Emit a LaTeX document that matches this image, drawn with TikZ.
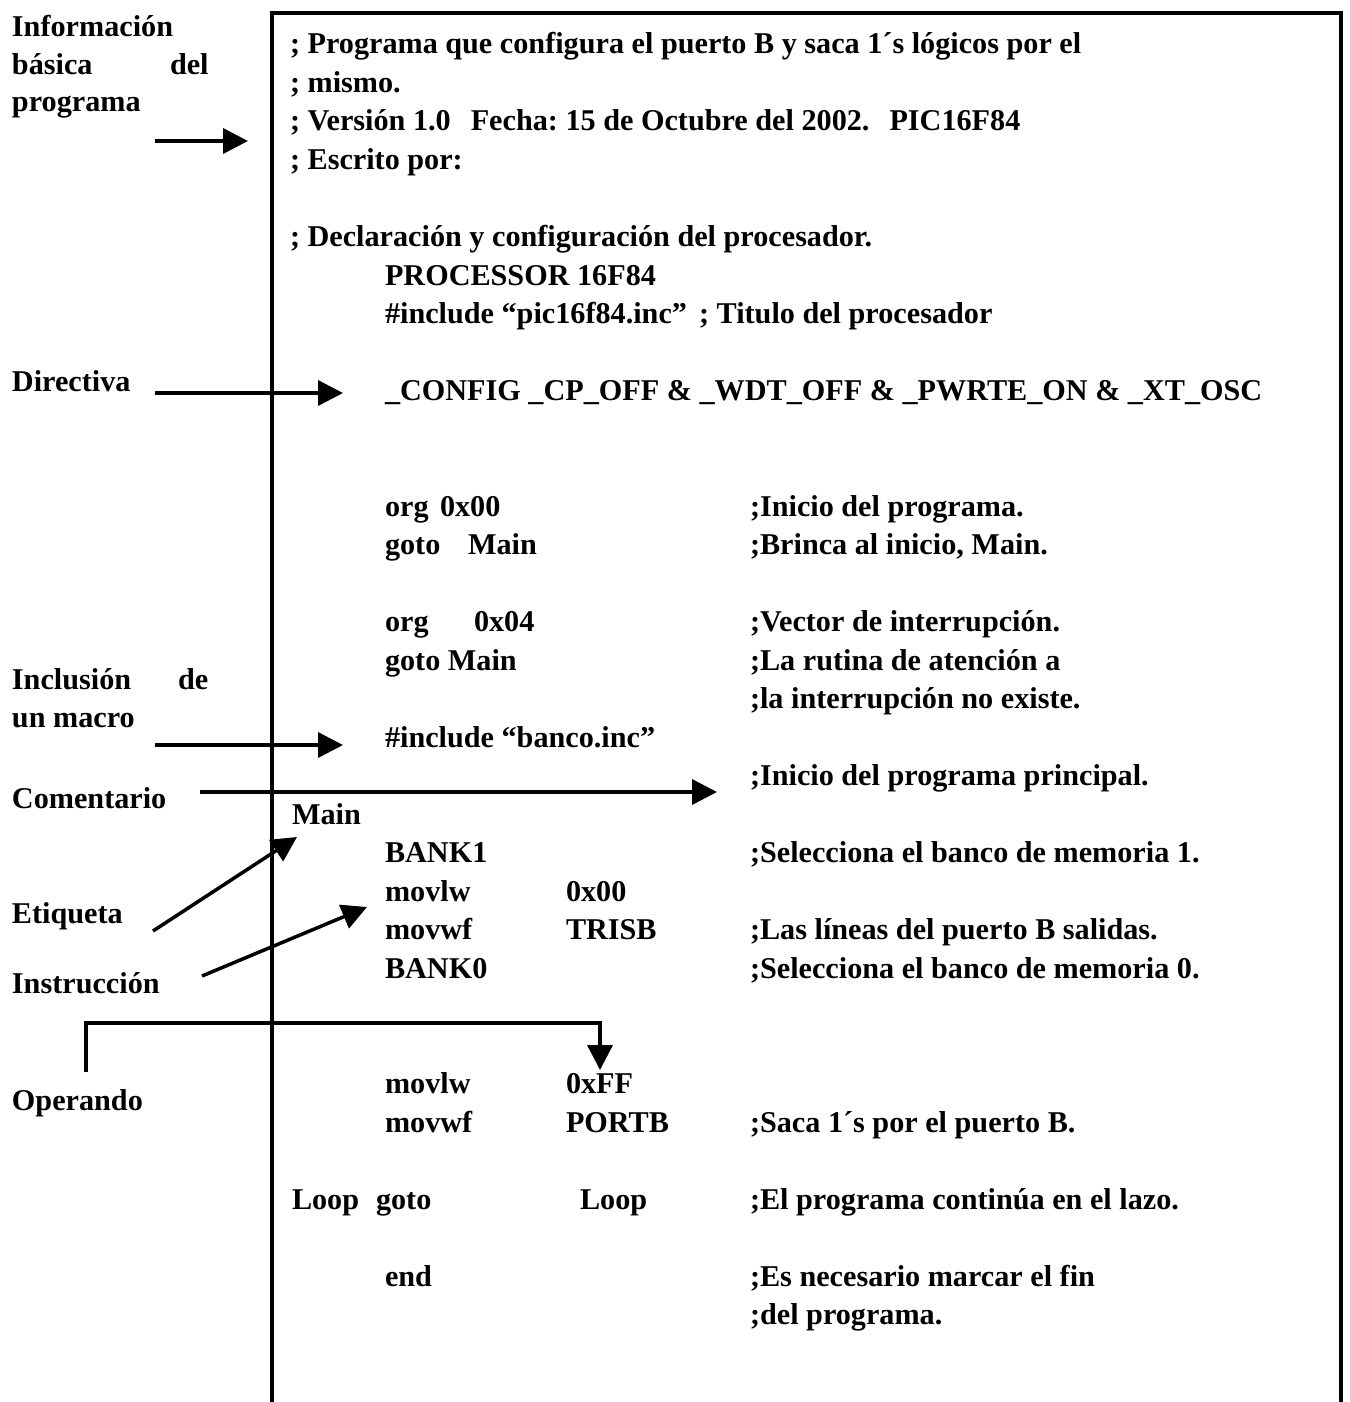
\documentclass[tikz,border=0pt]{standalone}
\usepackage{fontspec}
\setmainfont{Liberation Serif}
\usetikzlibrary{arrows.meta}
\newcommand{\fsz}{\fontsize{30.2}{36}\selectfont\bfseries\frenchspacing}
\tikzset{
  txt/.style={anchor=base west, inner sep=0pt, outer sep=0pt, font=\fsz},
  conn/.style={line width=3.5pt, -{Triangle[length=25pt,width=25pt]}},
  frame/.style={line width=4pt}
}
\begin{document}
\begin{tikzpicture}[x=1pt,y=-1pt]
\useasboundingbox (0,0) rectangle (1349,1402);
\fill[white] (0,0) rectangle (1349,1402);
% frame
\coordinate (fbl) at (272,1404);
\coordinate (ftl) at (272,13);
\coordinate (ftr) at (1341,13);
\coordinate (fbr) at (1341,1404);
\draw[frame] (fbl) -- (ftl) -- (ftr) -- (fbr);
% left labels
\node[txt] (l1) at (12,37) {Información};
\node[txt] (l2a) at (12,75) {básica};
\node[txt] (l2b) at (170,75) {del};
\node[txt] (l3) at (12,112) {programa};
\node[txt] (ldir) at (12,391) {Directiva};
\node[txt] (linc1) at (12,689) {Inclusión};
\node[txt] (linc2) at (178,689) {de};
\node[txt] (linc3) at (12,727) {un macro};
\node[txt] (lcom) at (12,808) {Comentario};
\node[txt] (leti) at (12,923) {Etiqueta};
\node[txt] (lins) at (12,993) {Instrucción};
\node[txt] (lope) at (12,1110) {Operando};
% code lines: baseline = 54 + 38.5 k
\def\cc{750}
\def\oc{566}
\node[txt] (c0) at (290,{54+38.5*0}) {; Programa que configura el puerto B y saca 1´s lógicos por el};
\node[txt] (c1) at (290,{54+38.5*1}) {; mismo.};
\node[txt] (c2) at (290,{54+38.5*2}) {; Versión 1.0\hspace{20pt}Fecha: 15 de Octubre del 2002.\hspace{20pt}PIC16F84};
\node[txt] (c3) at (290,{54+38.5*3}) {; Escrito por:};
\node[txt] (c5) at (290,{54+38.5*5}) {; Declaración y configuración del procesador.};
\node[txt] (c6) at (385,{54+38.5*6}) {PROCESSOR 16F84};
\node[txt] (c7) at (385,{54+38.5*7}) {\#include “pic16f84.inc”\hspace{12pt}; Titulo del procesador};
\node[txt] (c9) at (385,{54+38.5*9}) {\_CONFIG \_CP\_OFF \& \_WDT\_OFF \& \_PWRTE\_ON \& \_XT\_OSC};
\node[txt] (c12a) at (385,{54+38.5*12}) {org};
\node[txt] (c12b) at (440,{54+38.5*12}) {0x00};
\node[txt] (c12c) at (\cc,{54+38.5*12}) {;Inicio del programa.};
\node[txt] (c13a) at (385,{54+38.5*13}) {goto};
\node[txt] (c13b) at (468,{54+38.5*13}) {Main};
\node[txt] (c13c) at (\cc,{54+38.5*13}) {;Brinca al inicio, Main.};
\node[txt] (c15a) at (385,{54+38.5*15}) {org};
\node[txt] (c15b) at (474,{54+38.5*15}) {0x04};
\node[txt] (c15c) at (\cc,{54+38.5*15}) {;Vector de interrupción.};
\node[txt] (c16a) at (385,{54+38.5*16}) {goto Main};
\node[txt] (c16c) at (\cc,{54+38.5*16}) {;La rutina de atención a};
\node[txt] (c17c) at (\cc,{54+38.5*17}) {;la interrupción no existe.};
\node[txt] (c18) at (385,{54+38.5*18}) {\#include “banco.inc”};
\node[txt] (c19c) at (\cc,{54+38.5*19}) {;Inicio del programa principal.};
\node[txt] (c20) at (292,{54+38.5*20}) {Main};
\node[txt] (c21a) at (385,{54+38.5*21}) {BANK1};
\node[txt] (c21c) at (\cc,{54+38.5*21}) {;Selecciona el banco de memoria 1.};
\node[txt] (c22a) at (385,{54+38.5*22}) {movlw};
\node[txt] (c22b) at (\oc,{54+38.5*22}) {0x00};
\node[txt] (c23a) at (385,{54+38.5*23}) {movwf};
\node[txt] (c23b) at (\oc,{54+38.5*23}) {TRISB};
\node[txt] (c23c) at (\cc,{54+38.5*23}) {;Las líneas del puerto B salidas.};
\node[txt] (c24a) at (385,{54+38.5*24}) {BANK0};
\node[txt] (c24c) at (\cc,{54+38.5*24}) {;Selecciona el banco de memoria 0.};
\node[txt] (c27a) at (385,{54+38.5*27}) {movlw};
\node[txt] (c27b) at (\oc,{54+38.5*27}) {0xFF};
\node[txt] (c28a) at (385,{54+38.5*28}) {movwf};
\node[txt] (c28b) at (\oc,{54+38.5*28}) {PORTB};
\node[txt] (c28c) at (\cc,{54+38.5*28}) {;Saca 1´s por el puerto B.};
\node[txt] (c30a) at (292,{54+38.5*30}) {Loop};
\node[txt] (c30b) at (376,{54+38.5*30}) {goto};
\node[txt] (c30c) at (580,{54+38.5*30}) {Loop};
\node[txt] (c30d) at (\cc,{54+38.5*30}) {;El programa continúa en el lazo.};
\node[txt] (c32a) at (385,{54+38.5*32}) {end};
\node[txt] (c32c) at (\cc,{54+38.5*32}) {;Es necesario marcar el fin};
\node[txt] (c33c) at (\cc,{54+38.5*33}) {;del programa.};
% connector end points
\coordinate (a1s) at (155,141);  \coordinate (a1e) at (248,141);
\coordinate (a2s) at (155,393);  \coordinate (a2e) at (343,393);
\coordinate (a3s) at (155,745);  \coordinate (a3e) at (343,745);
\coordinate (a4s) at (200,792);  \coordinate (a4e) at (717,792);
\coordinate (a5s) at (153,931);  \coordinate (a5e) at (297,837);
\coordinate (a6s) at (202,976);  \coordinate (a6e) at (367,907);
\coordinate (a7s) at (86,1072);  \coordinate (a7k) at (600,1023); \coordinate (a7e) at (600,1070);
\draw[conn] (a1s) -- (a1e);
\draw[conn] (a2s) -- (a2e);
\draw[conn] (a3s) -- (a3e);
\draw[conn] (a4s) -- (a4e);
\draw[conn] (a5s) -- (a5e);
\draw[conn] (a6s) -- (a6e);
\draw[conn] (a7s) |- (a7k) -- (a7e);
\end{tikzpicture}
\end{document}
